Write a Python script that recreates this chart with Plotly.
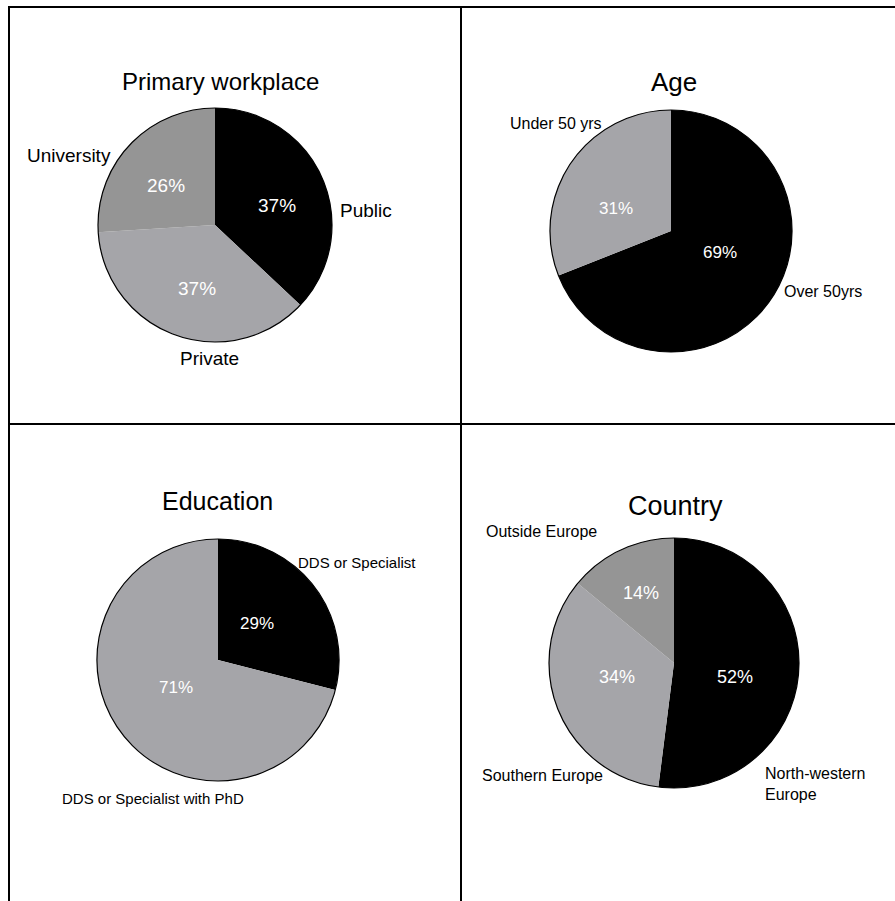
import plotly.graph_objects as go

W, H = 895, 901
FONT = "Liberation Sans, Arial, sans-serif"

# ---- data -------------------------------------------------------------
workplace_labels = ["Public", "Private", "University"]
workplace_values = [37, 37, 26]

age_labels = ["Over 50yrs", "Under 50 yrs"]
age_values = [69, 31]

education_labels = ["DDS or Specialist", "DDS or Specialist with PhD"]
education_values = [29, 71]

country_labels = ["North-western<br>Europe", "Southern Europe", "Outside Europe"]
country_values = [52, 34, 14]

# ---- styling / layout per panel ---------------------------------------
BLACK, LIGHT, MID = "#000000", "#a5a5a9", "#959595"

panels = [
    dict(title="Primary workplace", labels=workplace_labels, values=workplace_values,
         colors=[BLACK, LIGHT, MID], center=(215, 225), r=117,
         title_xy=(220, 82), title_size=24, label_size=19, pct_size=19,
         label_xy=[(366, 210, "center"), (209, 359, "center"), (69, 155, "center")],
         pct_xy=[(277, 206), (197, 289), (166, 185)]),
    dict(title="Age", labels=age_labels, values=age_values,
         colors=[BLACK, LIGHT], center=(671, 231), r=121,
         title_xy=(674, 82), title_size=26, label_size=16, pct_size=17,
         label_xy=[(823, 292, "center"), (556, 123, "center")],
         pct_xy=[(720, 252), (616, 208)]),
    dict(title="Education", labels=education_labels, values=education_values,
         colors=[BLACK, LIGHT], center=(218, 660), r=121,
         title_xy=(217, 501), title_size=25, label_size=15, pct_size=17,
         label_xy=[(357, 562, "center"), (153, 798, "center")],
         pct_xy=[(257, 623), (176, 687)]),
    dict(title="Country", labels=country_labels, values=country_values,
         colors=[BLACK, LIGHT, MID], center=(674, 663), r=125,
         title_xy=(675, 506), title_size=27, label_size=16, pct_size=18,
         label_xy=[(763, 784, "left"), (542, 775, "center"), (541, 531, "center")],
         pct_xy=[(735, 677), (617, 677), (641, 593)]),
]


def px(x):
    return x / W


def py(y):
    return 1 - y / H


fig = go.Figure()
annotations = []

for p in panels:
    cx, cy = p["center"]
    r = p["r"]
    domain = dict(x=[px(cx - r), px(cx + r)], y=[py(cy + r), py(cy - r)])

    # filled slices, clockwise from 12 o'clock
    fig.add_trace(go.Pie(
        labels=p["labels"], values=p["values"], domain=domain,
        sort=False, direction="clockwise", rotation=0,
        marker=dict(colors=p["colors"], line=dict(width=0)),
        textinfo="none", hoverinfo="label+percent", showlegend=False,
    ))
    # thin outline around the whole disc
    fig.add_trace(go.Pie(
        values=[1], domain=domain, sort=False,
        marker=dict(colors=["rgba(0,0,0,0)"], line=dict(color="black", width=1.2)),
        textinfo="none", hoverinfo="skip", showlegend=False,
    ))

    tx, ty = p["title_xy"]
    annotations.append(dict(
        text=p["title"], x=px(tx), y=py(ty), xref="paper", yref="paper",
        xanchor="center", yanchor="middle", showarrow=False,
        font=dict(family=FONT, size=p["title_size"], color="black"),
    ))

    for lab, (lx, ly, anchor) in zip(p["labels"], p["label_xy"]):
        annotations.append(dict(
            text=lab, x=px(lx), y=py(ly), xref="paper", yref="paper",
            xanchor=anchor, yanchor="middle", align=anchor if anchor != "center" else "center",
            showarrow=False,
            font=dict(family=FONT, size=p["label_size"], color="black"),
        ))

    for val, (vx, vy) in zip(p["values"], p["pct_xy"]):
        annotations.append(dict(
            text=f"{val}%", x=px(vx), y=py(vy), xref="paper", yref="paper",
            xanchor="center", yanchor="middle", showarrow=False,
            font=dict(family=FONT, size=p["pct_size"], color="white"),
        ))

# panel frame lines
line_style = dict(color="black", width=2)
shapes = [
    dict(type="line", xref="paper", yref="paper", x0=px(8), x1=1, y0=py(7), y1=py(7), line=line_style),
    dict(type="line", xref="paper", yref="paper", x0=px(9), x1=px(9), y0=py(7), y1=0, line=line_style),
    dict(type="line", xref="paper", yref="paper", x0=px(461), x1=px(461), y0=py(7), y1=0, line=line_style),
    dict(type="line", xref="paper", yref="paper", x0=px(8), x1=1, y0=py(424), y1=py(424), line=line_style),
]

fig.update_layout(
    width=W, height=H,
    margin=dict(l=0, r=0, t=0, b=0),
    paper_bgcolor="white", plot_bgcolor="white",
    annotations=annotations, shapes=shapes,
    font=dict(family=FONT),
)

fig.write_html("out.html")
